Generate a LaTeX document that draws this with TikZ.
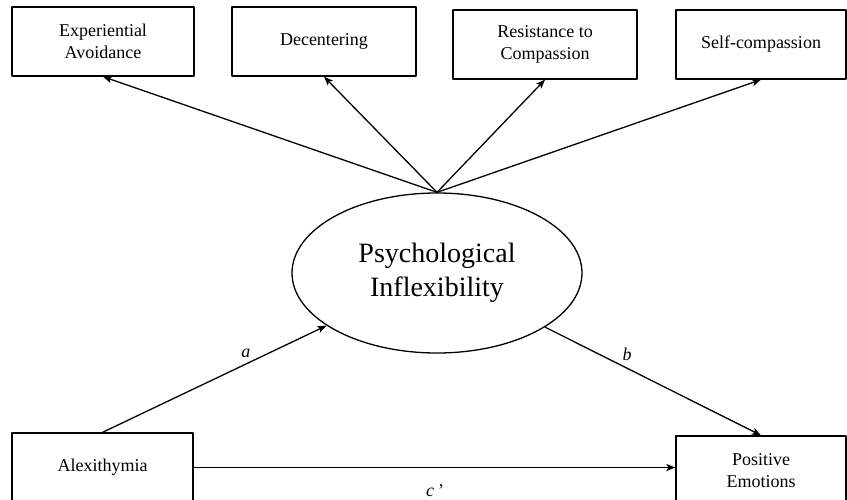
\documentclass[tikz,border=0pt]{standalone}
\usepackage{fontspec}
\setmainfont{Liberation Serif}
\usetikzlibrary{shapes.geometric,arrows.meta}
\begin{document}
\begin{tikzpicture}[x=1pt,y=-1pt,>={Stealth[length=9pt,width=7pt,inset=2pt]}, line join=round,
	box/.style={draw,line width=1.3pt,minimum height=69pt,inner sep=0pt,align=center,font=\fontsize{18}{22}\selectfont},
	latent/.style={draw,ellipse,line width=1.3pt,minimum width=290pt,minimum height=160pt,inner sep=0pt,align=center,font=\fontsize{28}{34}\selectfont},
	path/.style={->,line width=1.3pt},
	lbl/.style={font=\fontsize{18}{20}\selectfont\itshape}]
					\useasboundingbox (0,0) rectangle (847,499);
					% indicators
					\node[box,minimum width=182pt] (ea) at (103,41.5) {Experiential\\Avoidance};
					\node[box,minimum width=184pt] (dec) at (324,41.5) {Decentering};
					\node[box,minimum width=184pt] (rc) at (545,44.5) {Resistance to\\Compassion};
					\node[box,minimum width=170pt] (sc) at (761,44.5) {Self-compassion};
					% mediator
					\node[latent] (psy) at (437,273) {Psychological\\Inflexibility};
					% predictor and outcome
					\node[box,minimum width=181pt] (alex) at (102.5,467.5) {Alexithymia};
					\node[box,minimum width=170pt] (pe) at (761,470.5) {Positive\\Emotions};
					\foreach \t in {ea,dec,rc,sc}{
						\draw[path](psy.north)--(\t.south);
					}
					\draw[path](alex.north)--(psy) node[lbl,pos=.64,above=2pt] {a};
					\draw[path](psy)--(pe.north) node[lbl,pos=.38,above=4pt] {b};
					\draw[path](alex.east)--(alex.east -| pe.west) node[lbl,pos=.5,below=13pt] {c\,’};
				\end{tikzpicture}
\end{document}
